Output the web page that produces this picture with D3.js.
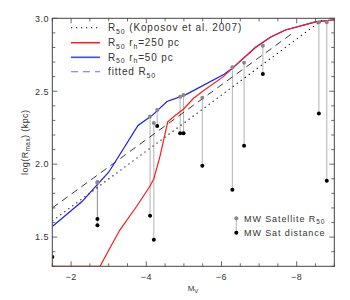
<!DOCTYPE html>
<html><head><meta charset="utf-8">
<script src="https://cdn.jsdelivr.net/npm/d3@7"></script>
<style>body{margin:0;background:#fff}svg{display:block}text{font-family:"Liberation Sans",Arial,sans-serif;fill:#333}</style>
</head><body><svg id="c" width="350" height="300"></svg>
<script>
// ---- data ----
const koposovM = [-1.5, -9.0];
const koposovLogR = [1.61, 3.05];
const fittedM = [-1.5, -7.9];
const fittedLogR = [1.70, 2.90];
const redM =    [-1.5, -2.77, -3.0, -3.3, -3.74, -4.1, -4.2, -4.36, -4.57, -4.75, -5.0, -5.25, -5.5, -6.05, -6.3, -6.9, -7.3, -7.7, -8.5, -9.0];
const redLogR = [1.3, 1.3, 1.41, 1.55, 1.71, 1.85, 1.90, 2.05, 2.29, 2.33, 2.38, 2.45, 2.50, 2.60, 2.66, 2.80, 2.87, 2.92, 2.975, 2.99];
const blueM =    [-1.5, -2.29, -2.69, -3.0, -3.78, -4.15, -4.55, -5.04, -6.07, -6.3, -6.9, -7.3, -7.7, -8.5, -9.0];
const blueLogR = [1.573, 1.744, 1.858, 1.945, 2.265, 2.333, 2.43, 2.475, 2.616, 2.66, 2.80, 2.87, 2.92, 2.975, 2.99];
const satM =    [-1.5, -2.7, -2.7, -4.10, -4.20, -4.29, -4.90, -4.99, -5.49, -6.29, -6.60, -7.10, -8.59, -8.80];
const satR50 =  [null, 1.878, 1.872, 2.326, 2.283, 2.372, 2.463, 2.475, 2.456, 2.664, 2.696, 2.812, 2.973, 2.973];
const satDist = [1.363, 1.625, 1.582, 1.646, 1.482, 2.262, 2.212, 2.212, 1.99, 1.824, 2.127, 2.618, 2.347, 1.886];
const xTicks = [-2, -4, -6, -8];
const yTicks = [1.5, 2.0, 2.5, 3.0];

// ---- layout ----
const L = 52.3, R = 334.3, T = 18.3, B = 266.3;
const svg = d3.select("#c");
const x = d3.scaleLinear().domain([-1.5, -9]).range([L, R]);
const y = d3.scaleLinear().domain([1.3, 3.0]).range([B, T]);

svg.append("defs").append("clipPath").attr("id", "clip")
  .append("rect").attr("x", L).attr("y", T).attr("width", R - L).attr("height", B - T);
const g = svg.append("g").attr("clip-path", "url(#clip)");

const line = d3.line().x(d => x(d[0])).y(d => y(d[1]));
const zip = (a, b) => a.map((v, i) => [v, b[i]]);

// satellites: connecting lines
const sats = satM.map((m, i) => ({m, r: satR50[i], d: satDist[i]}));
g.selectAll("line.sat").data(sats.filter(s => s.r != null)).join("line")
  .attr("x1", s => x(s.m)).attr("x2", s => x(s.m))
  .attr("y1", s => y(s.r)).attr("y2", s => y(s.d))
  .attr("stroke", "#8a8a8a").attr("stroke-opacity", 0.6).attr("stroke-width", 1.1);

// model lines
g.append("path").attr("d", line(zip(koposovM, koposovLogR))).attr("fill", "none")
  .attr("stroke", "#000").attr("stroke-width", 1.1).attr("stroke-dasharray", "1.2,3.8");
g.append("path").attr("d", line(zip(fittedM, fittedLogR))).attr("fill", "none")
  .attr("stroke", "#222").attr("stroke-width", 0.9).attr("stroke-dasharray", "7,5");
g.append("path").attr("d", line(zip(blueM, blueLogR))).attr("fill", "none")
  .attr("stroke", "#1a1aff").attr("stroke-width", 1.2);
g.append("path").attr("d", line(zip(redM, redLogR))).attr("fill", "none")
  .attr("stroke", "#ff1a1a").attr("stroke-width", 1.2);

// satellite dots
g.selectAll("circle.r50").data(sats.filter(s => s.r != null)).join("circle")
  .attr("cx", s => x(s.m)).attr("cy", s => y(s.r)).attr("r", 2).attr("fill", "#888");
g.selectAll("circle.dist").data(sats).join("circle")
  .attr("cx", s => x(s.m)).attr("cy", s => y(s.d)).attr("r", 2).attr("fill", "#000");

// frame
svg.append("rect").attr("x", L).attr("y", T).attr("width", R - L).attr("height", B - T)
  .attr("fill", "none").attr("stroke", "#444").attr("stroke-width", 1);

// ticks (inside, all four sides)
const tk = svg.append("g").attr("stroke", "#444").attr("stroke-width", 0.8);
const xMinor = d3.range(-1.5, -9.01, -0.5);
xMinor.forEach(v => {
  const len = xTicks.includes(v) ? 5 : 3;
  tk.append("line").attr("x1", x(v)).attr("x2", x(v)).attr("y1", B).attr("y2", B - len);
  tk.append("line").attr("x1", x(v)).attr("x2", x(v)).attr("y1", T).attr("y2", T + len);
});
const yMinor = d3.range(13, 31).map(v => v / 10);
yMinor.forEach(v => {
  const len = yTicks.some(t => Math.abs(t - v) < 1e-6) ? 5 : 3;
  tk.append("line").attr("y1", y(v)).attr("y2", y(v)).attr("x1", L).attr("x2", L + len);
  tk.append("line").attr("y1", y(v)).attr("y2", y(v)).attr("x1", R).attr("x2", R - len);
});

// tick labels
svg.selectAll("text.xt").data(xTicks).join("text")
  .attr("x", d => x(d)).attr("y", 280).attr("text-anchor", "middle")
  .attr("font-size", 9).attr("letter-spacing", 0.5).text(d => "\u2212" + Math.abs(d));
svg.selectAll("text.yt").data(yTicks).join("text")
  .attr("x", 49).attr("y", d => y(d) + 3.3).attr("text-anchor", "end")
  .attr("font-size", 9).attr("letter-spacing", 0.5).text(d => d.toFixed(1));

// axis titles
const xt = svg.append("text").attr("x", 193).attr("y", 291).attr("text-anchor", "middle").attr("font-size", 8);
xt.append("tspan").text("M");
xt.append("tspan").attr("font-size", 6).attr("dy", 2).text("V");
const yt = svg.append("text").attr("transform", "translate(28," + ((T + B) / 2) + ") rotate(-90)")
  .attr("text-anchor", "middle").attr("font-size", 9).attr("letter-spacing", 0.4);
yt.append("tspan").text("log(R");
yt.append("tspan").attr("font-size", 6.5).attr("dy", 2).text("max");
yt.append("tspan").attr("dy", -2).text(") (kpc)");

// legend 1
const leg = [
  {y: 27.7, stroke: "#000", dash: "1.2,3.8", w: 1.1, pre: "R", sub: "50", post: " (Koposov et al. 2007)"},
  {y: 42.7, stroke: "#ff1a1a", dash: null, w: 1.5, pre: "R", sub: "50", post: " r", sub2: "h", post2: "=250 pc"},
  {y: 57.3, stroke: "#3a4cff", dash: null, w: 1.6, pre: "R", sub: "50", post: " r", sub2: "h", post2: "=50 pc"},
  {y: 71.7, stroke: "#6a6af0", dash: "7,5", w: 1.1, pre: "fitted R", sub: "50", post: ""}
];
leg.forEach(e => {
  const ln = svg.append("line").attr("x1", 71).attr("x2", 100).attr("y1", e.y).attr("y2", e.y)
    .attr("stroke", e.stroke).attr("stroke-width", e.w);
  if (e.dash) ln.attr("stroke-dasharray", e.dash);
  const t = svg.append("text").attr("x", 108).attr("y", e.y + 3.5).attr("font-size", 10)
    .attr("letter-spacing", 0.85);
  t.append("tspan").text(e.pre);
  t.append("tspan").attr("font-size", 7).attr("dy", 2.5).text(e.sub);
  t.append("tspan").attr("dy", -2.5).text(e.post);
  if (e.sub2) {
    t.append("tspan").attr("font-size", 7).attr("dy", 2.5).text(e.sub2);
    t.append("tspan").attr("dy", -2.5).text(e.post2);
  }
});

// legend 2
svg.append("line").attr("x1", 236.3).attr("x2", 236.3).attr("y1", 218.3).attr("y2", 232.7)
  .attr("stroke", "#8a8a8a").attr("stroke-opacity", 0.6).attr("stroke-width", 1.1);
svg.append("circle").attr("cx", 236.3).attr("cy", 218.3).attr("r", 2).attr("fill", "#888");
svg.append("circle").attr("cx", 236.3).attr("cy", 232.7).attr("r", 2).attr("fill", "#000");
const l2a = svg.append("text").attr("x", 244).attr("y", 221.5).attr("font-size", 9).attr("letter-spacing", 0.9);
l2a.append("tspan").text("MW Satellite R");
l2a.append("tspan").attr("font-size", 6.5).attr("dy", 2).text("50");
svg.append("text").attr("x", 244).attr("y", 236).attr("font-size", 9).attr("letter-spacing", 0.9).text("MW Sat distance");
</script></body></html>
